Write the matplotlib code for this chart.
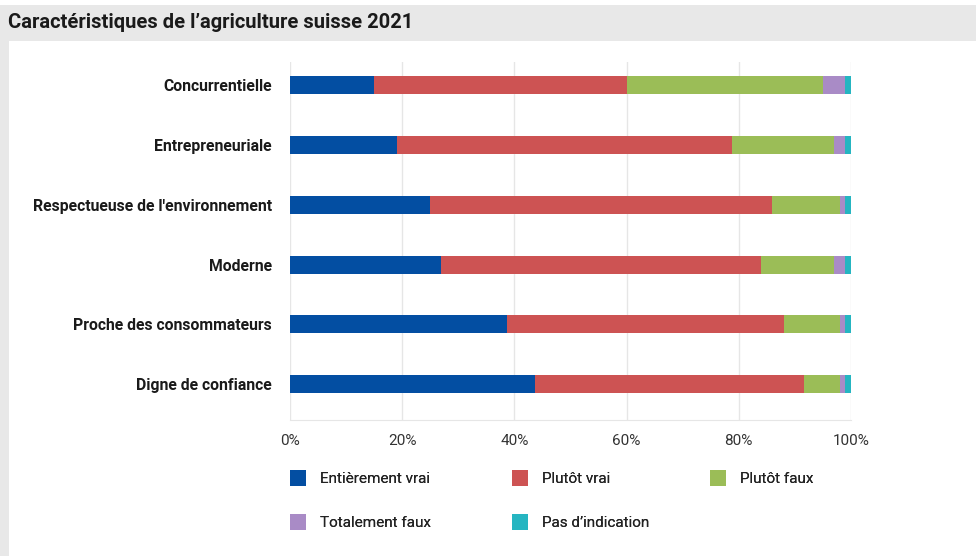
"""Caractéristiques de l'agriculture suisse 2021 - barres empilées."""
import matplotlib
matplotlib.use("Agg")
import matplotlib.pyplot as plt
from matplotlib.patches import Rectangle, Patch
import numpy as np

plt.rcParams['font.family'] = ['Roboto', 'DejaVu Sans']

# donnees (en %), de haut en bas
categories = ["Concurrentielle", "Entrepreneuriale",
              "Respectueuse de l'environnement", "Moderne",
              "Proche des consommateurs", "Digne de confiance"]
entierement_vrai = [15, 19, 25, 27, 38.6, 43.6]
plutot_vrai = [45, 59.8, 61, 57, 49.5, 48]
plutot_faux = [35, 18.2, 12, 13, 10, 6.4]
totalement_faux = [4, 2, 1, 2, 0.8, 0.9]
pas_indication = [1, 1, 1, 1, 1.1, 1.1]

series = [entierement_vrai, plutot_vrai, plutot_faux, totalement_faux, pas_indication]
noms = ["Entièrement vrai", "Plutôt vrai", "Plutôt faux",
        "Totalement faux", "Pas d\u2019indication"]
couleurs = ["#034ea2", "#cd5353", "#9bbd57", "#a98bc6", "#25b5c1"]

W, H = 976, 556
fig = plt.figure(figsize=(W / 100, H / 100), dpi=100)
fig.patch.set_facecolor("white")

# bandeau gris du titre + marge gauche
fig.patches.append(Rectangle((0, 1 - 41 / H), 1, 36 / H, transform=fig.transFigure,
                             facecolor="#e8e8e8", edgecolor="none", zorder=0))
fig.patches.append(Rectangle((0, 0), 9 / W, 1 - 5 / H, transform=fig.transFigure,
                             facecolor="#e8e8e8", edgecolor="none", zorder=0))
fig.text(8 / W, 1 - 22 / H, "Caractéristiques de l\u2019agriculture suisse 2021",
         fontsize=14.5, fontweight="bold", color="#1a1a1a", va="center", ha="left")

ax = fig.add_axes([290 / W, 1 - 420 / H, 561 / W, 358 / H])
y = np.arange(len(categories))
left = np.zeros(len(categories))
for vals, nom, c in zip(series, noms, couleurs):
    ax.barh(y, vals, left=left, height=0.3, color=c, label=nom, zorder=3)
    left += np.array(vals)

ax.set_xlim(0, 100)
ax.set_ylim(len(categories) - 1 + 0.6, -0.39)
ax.set_yticks(y)
ax.set_yticklabels(categories, fontsize=11.3, fontweight="bold", color="#1a1a1a")
ax.set_xticks([0, 20, 40, 60, 80, 100])
ax.set_xticklabels(["0%", "20%", "40%", "60%", "80%", "100%"], fontsize=11, color="#333333")
ax.tick_params(axis="both", length=0)
ax.tick_params(axis="y", pad=13)
ax.tick_params(axis="x", pad=10)
ax.grid(axis="x", color="#e6e6e6", lw=1, zorder=0)
for s in ["top", "right", "left"]:
    ax.spines[s].set_visible(False)
ax.spines["bottom"].set_color("#e6e6e6")

# legende : une colonne par groupe
handles = [Patch(facecolor=c, edgecolor="none") for c in couleurs]
colonnes = [[0, 3], [1, 4], [2]]
x_colonnes = [284, 506, 704]
for idx, xc in zip(colonnes, x_colonnes):
    leg = fig.legend([handles[i] for i in idx], [noms[i] for i in idx],
                     loc="upper left", bbox_to_anchor=(xc / W, 1 - 464 / H),
                     borderaxespad=0, frameon=False, fontsize=11,
                     handlelength=1.05, handleheight=1.25, handletextpad=0.9,
                     labelspacing=1.8, labelcolor="#222222")
    fig.add_artist(leg)

plt.savefig("out.png", dpi=100)
plt.close(fig)
